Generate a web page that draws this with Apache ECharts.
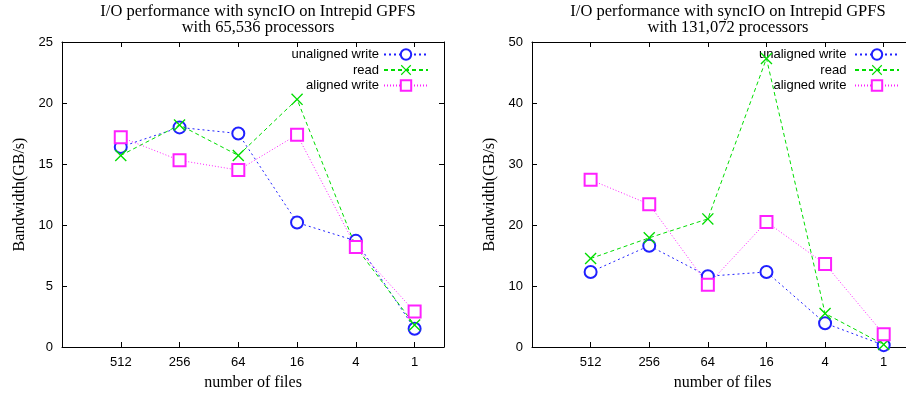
<!DOCTYPE html>
<html><head><meta charset="utf-8">
<script src="https://cdn.jsdelivr.net/npm/echarts@6/dist/echarts.min.js"></script>
<style>html,body{margin:0;padding:0;background:#fff}#c{width:906px;height:393px}</style>
</head><body><div id="c"></div>
<script>
const fileLabels = ['512', '256', '64', '16', '4', '1'];
const seriesNames = ['unaligned write', 'read', 'aligned write'];
// 65,536 processors
const p65_unaligned = [16.4, 18.0, 17.5, 10.2, 8.7, 1.5];
const p65_read      = [15.7, 18.2, 15.7, 20.3, 8.2, 1.8];
const p65_aligned   = [17.2, 15.3, 14.5, 17.4, 8.2, 2.9];
// 131,072 processors
const p131_unaligned = [12.3, 16.6, 11.6, 12.3, 3.9, 0.3];
const p131_read      = [14.5, 17.9, 21.0, 47.3, 5.5, 0.4];
const p131_aligned   = [27.4, 23.4, 10.2, 20.5, 13.6, 2.1];
const titles = ['I/O performance with syncIO on Intrepid GPFS\nwith 65,536 processors',
                'I/O performance with syncIO on Intrepid GPFS\nwith 131,072 processors'];
const yMax = [25, 50], yStep = [5, 10];

const colors = ['#2020ff', '#00dd00', '#ff20ff'];
const dashes = [[2, 3], [4, 3], [1, 2]];
const xSym = 'path://M0,0.8 L0.8,0 L5,4.2 L9.2,0 L10,0.8 L5.8,5 L10,9.2 L9.2,10 L5,5.8 L0.8,10 L0,9.2 L4.2,5 Z';
const symbols = ['emptyCircle', xSym, 'emptyRect'];
const serif = 'Liberation Serif';
const sans = 'Liberation Sans';

const grids = [{left: 62, top: 42, width: 382, height: 305, outerBoundsMode: 'none', containLabel: false},
               {left: 532, top: 42, width: 381, height: 305, outerBoundsMode: 'none', containLabel: false}];
const xAxis = [], yAxis = [], series = [], title = [], legend = [];
const data = [[p65_unaligned, p65_read, p65_aligned], [p131_unaligned, p131_read, p131_aligned]];
grids.forEach((g, gi) => {
  const base = {min: 0, max: 6.5, interval: 1, gridIndex: gi, type: 'value', splitLine: {show: false},
    axisLine: {onZero: false, lineStyle: {color: '#000', width: 1}}, axisTick: {inside: true, length: 5, lineStyle: {color: '#000'}}};
  xAxis.push(Object.assign({}, base, {position: 'bottom', name: 'number of files', nameLocation: 'middle', nameGap: 28,
    nameTextStyle: {fontFamily: serif, fontSize: 16, color: '#000'},
    axisLabel: {fontFamily: sans, fontSize: 13, color: '#000', margin: 9, formatter: v => (v >= 1 && v <= 6) ? fileLabels[v - 1] : ''}}));
  xAxis.push(Object.assign({}, base, {position: 'top', axisLabel: {show: false}}));
  const ybase = {min: 0, max: yMax[gi], interval: yStep[gi], gridIndex: gi, type: 'value', splitLine: {show: false},
    axisLine: {show: true, onZero: false, lineStyle: {color: '#000', width: 1}}, axisTick: {show: true, inside: true, length: 5, lineStyle: {color: '#000'}}};
  yAxis.push(Object.assign({}, ybase, {position: 'left', name: 'Bandwidth(GB/s)', nameLocation: 'middle', nameGap: 34,
    nameTextStyle: {fontFamily: serif, fontSize: 16, color: '#000'},
    axisLabel: {fontFamily: sans, fontSize: 13, color: '#000', margin: 9}}));
  yAxis.push(Object.assign({}, ybase, {position: 'right', axisLabel: {show: false}}));
  title.push({text: titles[gi], left: g.left + 191, top: -1, textAlign: 'center',
    textStyle: {fontFamily: serif, fontSize: 16.5, fontWeight: 'normal', color: '#000', lineHeight: 16}});
  const names = seriesNames.map(n => n + (gi === 0 ? '' : ' '));
  legend.push({orient: 'vertical', align: 'right', right: gi === 0 ? 477 : 6, top: 48, itemWidth: 44, itemHeight: 13, itemGap: 2.5,
    data: names, textStyle: {fontFamily: sans, fontSize: 13, color: '#000'}, padding: 0});
  data[gi].forEach((vals, si) => {
    series.push({name: names[si], type: 'line', xAxisIndex: gi * 2, yAxisIndex: gi * 2,
      data: vals.map((v, i) => [i + 1, v]), symbol: symbols[si], symbolSize: 12,
      showAllSymbol: true, animation: false, z: 3 + si,
      lineStyle: {color: colors[si], width: 1, type: dashes[si]},
      itemStyle: {color: colors[si], borderColor: colors[si], borderWidth: si === 1 ? 0 : 1.1}});
  });
});
const chart = echarts.init(document.getElementById('c'), null, {renderer: 'canvas'});
chart.setOption({animation: false, color: colors, grid: grids, xAxis, yAxis, series, title, legend});
</script></body></html>
